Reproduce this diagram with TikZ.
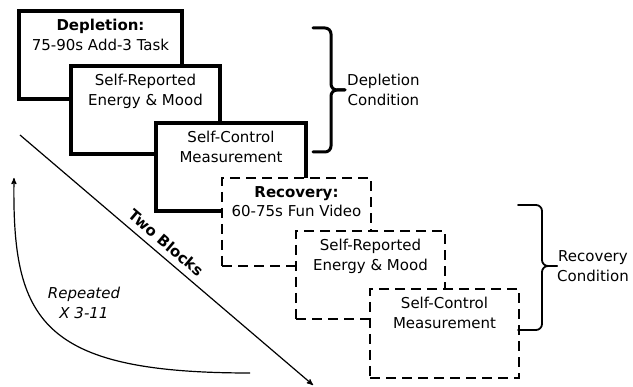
\documentclass[tikz,border=0pt]{standalone}
\usepackage{fontspec}
\setmainfont{DejaVu Sans}
\usetikzlibrary{arrows,positioning}

\begin{document}
\begin{tikzpicture}[
  x=1pt, y=-1pt,
  >=stealth',
  font=\fontsize{15}{19.5}\selectfont,
  depletion/.style={draw, line width=3.5pt, fill=white, anchor=north west,
    minimum width=149pt, minimum height=88pt, inner sep=0pt, outer sep=0pt},
  recovery/.style={depletion, line width=2.5pt, dash pattern=on 10pt off 6pt},
  boxtext/.style={align=center, inner sep=0pt},
  condition/.style={align=center, inner sep=0pt, anchor=west},
  bracket/.style={rounded corners=6pt, line cap=round}
  ]
\useasboundingbox (0,0) rectangle (633,387);
% depletion block
\node [depletion, minimum width=163pt] (dep) at (19,11) {};
\node [boxtext, below=8pt of dep.north] (deptext) {\textbf{Depletion:}\\75-90s Add-3 Task};
\node [depletion] (depmood) at (71,66) {};
\node [boxtext, below=8pt of depmood.north] (depmoodtext) {Self-Reported\\Energy \& Mood};
\node [depletion, minimum width=150pt] (depctrl) at (156,123) {};
\node [boxtext, below=8pt of depctrl.north] (depctrltext) {Self-Control\\Measurement};
% recovery block
\node [recovery] (rec) at (222,178) {};
\node [boxtext, below=8pt of rec.north] (rectext) {\textbf{Recovery:}\\60-75s Fun Video};
\node [recovery] (recmood) at (296,231) {};
\node [boxtext, below=8pt of recmood.north] (recmoodtext) {Self-Reported\\Energy \& Mood};
\node [recovery, minimum height=89pt] (recctrl) at (370,289) {};
\node [boxtext, below=8pt of recctrl.north] (recctrltext) {Self-Control\\Measurement};
% braces
\coordinate (deptop) at (313,28);
\coordinate (depbot) at (313,152);
\coordinate (deptip) at (345,90);
\draw [bracket, line width=3pt] (deptop) -- (331,28) -- (331,90) -- (deptip);
\draw [bracket, line width=3pt] (depbot) -- (331,152) -- (331,90) -- (deptip);
\node [condition, right=2pt of deptip] (depcond) {Depletion\\Condition};
\coordinate (rectop) at (518,205);
\coordinate (recbot) at (518,330);
\coordinate (rectip) at (557,266);
\draw [bracket, line width=1.8pt] (rectop) -- (542,205) -- (542,266) -- (rectip);
\draw [bracket, line width=1.8pt] (recbot) -- (542,330) -- (542,266) -- (rectip);
\node [condition, right=0pt of rectip] (reccond) {Recovery\\Condition};
% arrows
\coordinate (blockstart) at (20,135);
\coordinate (blockend) at (313,385);
\draw [->, line width=1.2pt] (blockstart) -- node [sloped, above=3pt, pos=.47] (blocks) {\textbf{Two Blocks}} (blockend);
\coordinate (repstart) at (250,373);
\coordinate (repend) at (14,178);
\draw [->, line width=1.2pt] (repstart) .. controls (40,373) and (12,320) .. (repend);
\node [boxtext, font=\fontsize{15}{19.5}\selectfont\itshape] (rep) at (84,303) {Repeated\\X 3-11};
\end{tikzpicture}
\end{document}
